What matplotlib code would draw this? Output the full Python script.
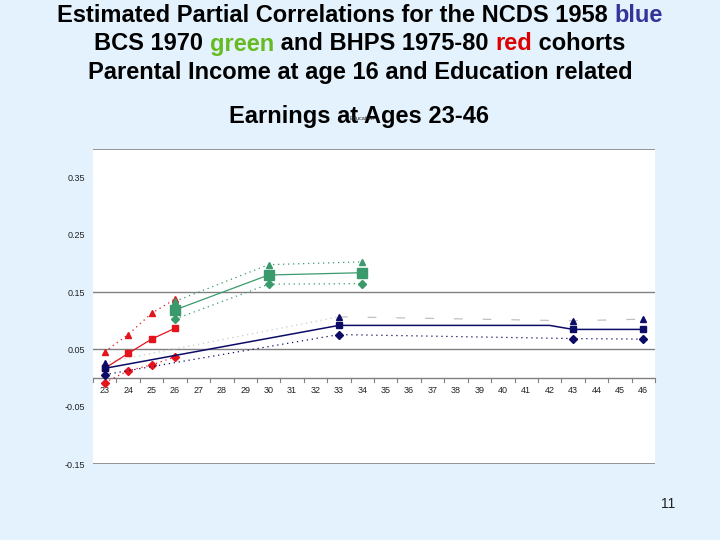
import matplotlib
matplotlib.use("Agg")
import matplotlib.pyplot as plt
import numpy as np

# ---------------- data ----------------
ages = list(range(23, 47))

# BHPS 1975-80 (red)
bhps_ages = [23, 24, 25, 26]
bhps_upper = [0.046, 0.076, 0.113, 0.138]
bhps_mid = [0.017, 0.043, 0.068, 0.087]
bhps_lower = [-0.008, 0.013, 0.023, 0.037]

# BCS 1970 (green)
bcs_ages = [26, 30, 34]
bcs_upper = [0.134, 0.198, 0.203]
bcs_mid = [0.119, 0.180, 0.184]
bcs_lower = [0.103, 0.164, 0.165]

# NCDS 1958 (blue)
ncds_ages = [23, 33, 43, 46]
ncds_upper = [0.027, 0.107, 0.100, 0.103]
ncds_mid = [0.017, 0.092, 0.085, 0.085]
ncds_lower = [0.006, 0.076, 0.069, 0.068]
ncds_line_ages = [23, 33, 42, 43, 46]
ncds_line_vals = [0.017, 0.092, 0.092, 0.085, 0.085]

yticks = [-0.15, -0.05, 0.05, 0.15, 0.25, 0.35]
ytick_labels = ["-0.15", "-0.05", "0.05", "0.15", "0.25", "0.35"]

# ---------------- figure ----------------
BG = "#e3f2fd"
RED = "#e3141c"
GREEN = "#3a9a6c"
NAVY = "#0c0c66"
GRAY = "#808080"

fig = plt.figure(figsize=(7.2, 5.4), dpi=100, facecolor=BG)
W, H = 720, 540
L, R, T, B = 93, 655, 149, 464
ax = fig.add_axes([L / W, 1 - B / H, (R - L) / W, (B - T) / H])
ax.set_facecolor("white")

def xi(a_list):
    return [ages.index(a) for a in a_list]

ax.set_xlim(-0.5, len(ages) - 0.5)
ax.set_ylim(-0.15, 0.40)

for s in ax.spines.values():
    s.set_visible(False)

# horizontal lines
for yv in [0.15, 0.05]:
    ax.axhline(yv, color=GRAY, lw=1.0, zorder=1)
ax.axhline(0.40, color=GRAY, lw=1.2, zorder=1)
ax.axhline(-0.15, color=GRAY, lw=1.2, zorder=1)
ax.axhline(0.0, color=GRAY, lw=1.0, zorder=1)

# x tick marks between categories at y=0
for k in range(len(ages) + 1):
    ax.plot([k - 0.5, k - 0.5], [0, -0.007], color=GRAY, lw=0.8, zorder=1, clip_on=False)
for k, a in enumerate(ages):
    ax.text(k, -0.014, str(a), ha="center", va="top", fontsize=6.5, color="#222222",
            family="Liberation Sans")

ax.set_xticks([])
ax.set_yticks(yticks)
ax.set_yticklabels(ytick_labels, fontsize=6.5, color="#222222", family="Liberation Sans")
ax.tick_params(axis="y", length=0, pad=6)

DOT = (0, (1, 3))

# ---- red series
ax.plot(xi(bhps_ages), bhps_upper, color=RED, ls=DOT, lw=0.9, marker="^", ms=5, zorder=3)
ax.plot(xi(bhps_ages), bhps_mid, color=RED, ls="-", lw=0.9, marker="s", ms=4.5, zorder=3)
ax.plot(xi(bhps_ages), bhps_lower, color=RED, ls=DOT, lw=0.9, marker="D", ms=3.8, zorder=3)

# ---- green series
ax.plot(xi(bcs_ages), bcs_upper, color=GREEN, ls=DOT, lw=0.9, marker="^", ms=5, zorder=3)
ax.plot(xi(bcs_ages), bcs_mid, color=GREEN, ls="-", lw=0.9, marker="s", ms=7, zorder=3)
ax.plot(xi(bcs_ages), bcs_lower, color=GREEN, ls=DOT, lw=0.9, marker="D", ms=3.8, zorder=3)

# ---- blue series
ux = xi(ncds_ages)
ax.plot(ux[:2], ncds_upper[:2], color="#c8c8c8", ls=DOT, lw=0.9, zorder=2)
ax.plot(ux[1:], ncds_upper[1:], color="#c0c0c0", ls=(0, (7, 16)), lw=0.9, zorder=2)
ax.plot(ux, ncds_upper, ls="none", color=NAVY, marker="^", ms=5, zorder=3)
ax.plot(xi(ncds_line_ages), ncds_line_vals, color=NAVY, ls="-", lw=1.1, zorder=3)
ax.plot(ux, ncds_mid, ls="none", color=NAVY, marker="s", ms=4.5, zorder=3)
ax.plot(ux, ncds_lower, color=NAVY, ls=DOT, lw=0.9, marker="D", ms=3.8, zorder=3)

# ---------------- titles ----------------
fig.canvas.draw()
renderer = fig.canvas.get_renderer()
TFONT = dict(fontsize=17, fontweight="bold", family="Liberation Sans")

def colored_line(pieces, cx, cy):
    texts = []
    for s, c in pieces:
        t = fig.text(0, 0, s, color=c, ha="left", va="center", **TFONT)
        texts.append(t)
    widths = [t.get_window_extent(renderer).width for t in texts]
    total = sum(widths)
    x = cx - total / 2
    for t, w in zip(texts, widths):
        t.set_position((x / W, 1 - cy / H))
        x += w

colored_line([("Estimated Partial Correlations for the NCDS 1958 ", "black"), ("blue", "#333399")], 360, 15)
colored_line([("BCS 1970 ", "black"), ("green", "#66bb22"), (" and BHPS 1975-80 ", "black"),
              ("red", "#dd0000"), (" cohorts", "black")], 360, 44)
colored_line([("Parental Income at age 16 and Education related", "black")], 360, 72)
colored_line([("Earnings at Ages 23-46", "black")], 359, 117)
fig.text(362 / W, 1 - 119 / H, "Education", fontsize=4, ha="center", va="center",
         color="#222222", family="Liberation Sans")

fig.text(668 / W, 1 - 504 / H, "11", fontsize=10, ha="center", va="center",
         color="#222222", family="Liberation Sans")

fig.savefig("out.png", dpi=100, facecolor=BG)
